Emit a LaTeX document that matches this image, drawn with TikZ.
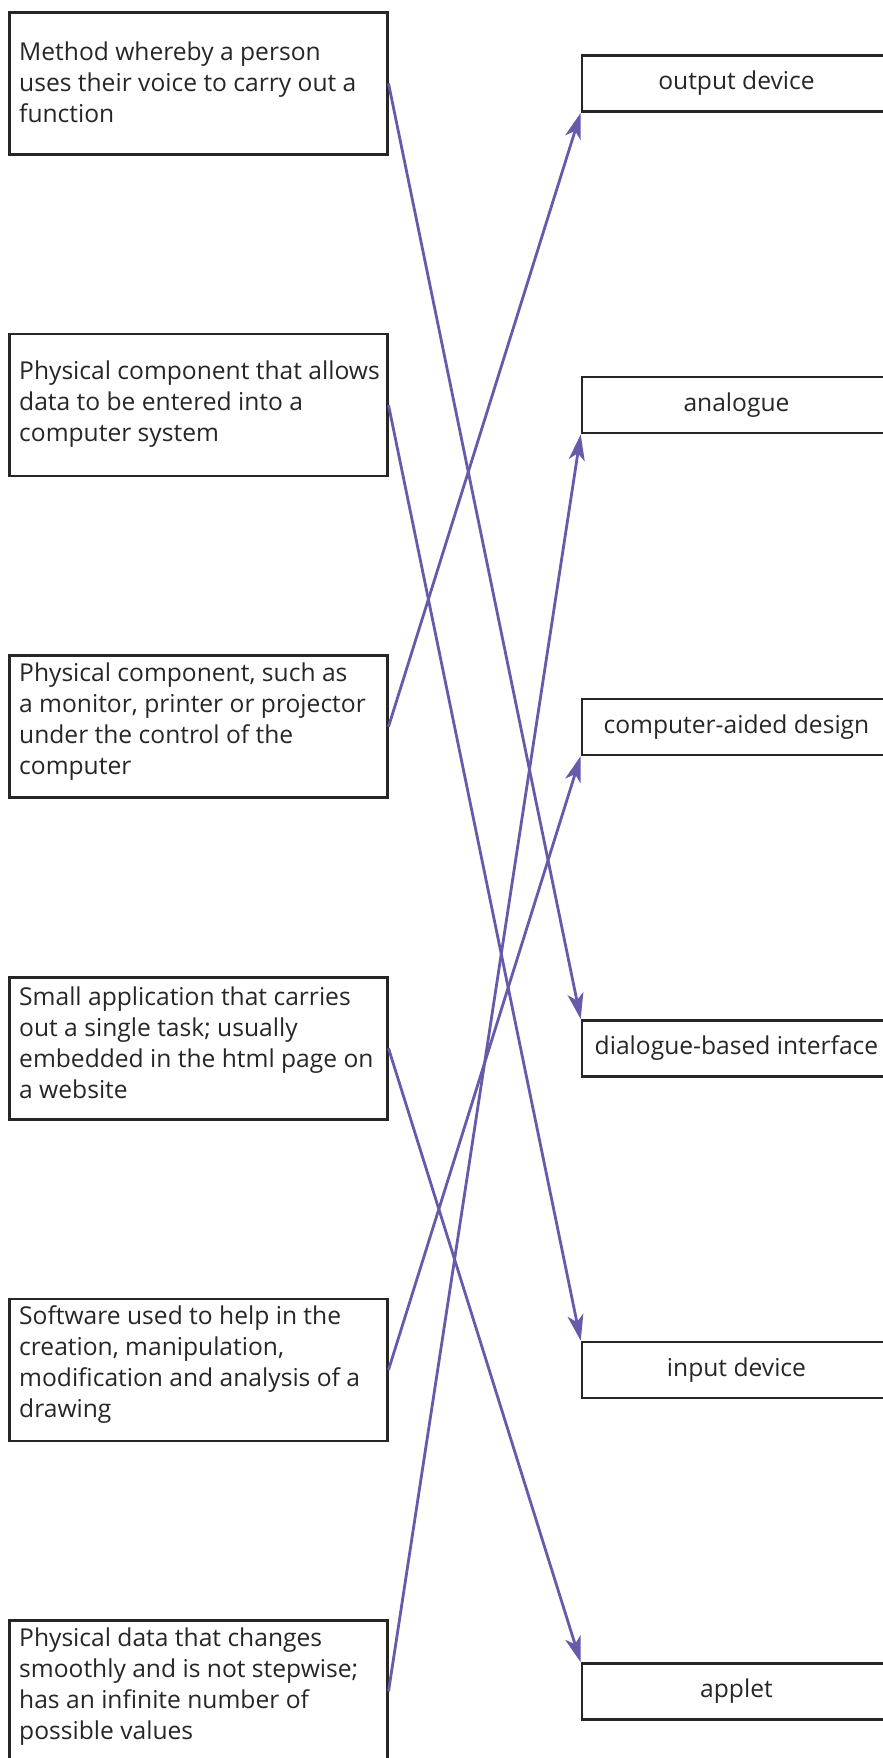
\documentclass[tikz,border=0pt]{standalone}
\usepackage{fontspec}
\setmainfont{Open Sans}
\usetikzlibrary{arrows.meta}
\definecolor{linkpurple}{RGB}{102,90,170}
\definecolor{boxgray}{RGB}{38,38,38}

\begin{document}
\begin{tikzpicture}[x=1pt,y=-1pt,
  defbox/.style={draw=boxgray, line width=2.5pt, minimum width=378pt,
    minimum height=142pt, anchor=north west, inner sep=0pt},
  deftext/.style={anchor=west, align=left, inner sep=0pt,
    font=\fontsize{24.6}{31}\selectfont, text=black!85},
  termbox/.style={draw=boxgray, line width=2.5pt, minimum width=309pt,
    minimum height=56pt, anchor=north west, inner sep=0pt,
    font=\fontsize{24.6}{31}\selectfont, text=black!85},
  link/.style={draw=linkpurple, line width=2.8pt,
    -{Stealth[length=26pt,width=16pt,inset=7pt]}}]
\useasboundingbox (0,0) rectangle (883,1758);
\clip (0,0) rectangle (883,1758);

% definition boxes (left column)
\node[defbox] (l1) at (8,11.2) {};
\node[defbox] (l2) at (8,332.8) {};
\node[defbox] (l3) at (8,654.4) {};
\node[defbox] (l4) at (8,976.0) {};
\node[defbox] (l5) at (8,1297.6) {};
\node[defbox] (l6) at (8,1619.2) {};

\node[deftext] (t1) at (19,82.2) {Method whereby a person\\uses their voice to carry out a\\function};
\node[deftext] (t2) at (19,403.8) {Physical component that allows\\data to be entered into a\\computer system};
\node[deftext] (t3) at (19,721.4) {Physical component, such as\\a monitor, printer or projector\\under the control of the\\computer};
\node[deftext] (t4) at (19,1043.0) {Small application that carries\\out a single task; usually\\embedded in the html page on\\a website};
\node[deftext] (t5) at (19,1364.6) {Software used to help in the\\creation, manipulation,\\modification and analysis of a\\drawing};
\node[deftext] (t6) at (19,1686.2) {Physical data that changes\\smoothly and is not stepwise;\\has an infinite number of\\possible values};

% term boxes (right column)
\node[termbox] (r1) at (580.7,54.3) {output device};
\node[termbox] (r2) at (580.7,375.9) {analogue};
\node[termbox] (r3) at (580.7,697.5) {computer-aided design};
\node[termbox] (r4) at (580.7,1019.1) {dialogue-based interface};
\node[termbox] (r5) at (580.7,1340.7) {input device};
\node[termbox] (r6) at (580.7,1662.3) {applet};

% matching lines
\draw[link] (l1.east) -- (r4.north west);
\draw[link] (l2.east) -- (r5.north west);
\draw[link] (l3.east) -- (r1.south west);
\draw[link] (l4.east) -- (r6.north west);
\draw[link] (l5.east) -- (r3.south west);
\draw[link] (l6.east) -- (r2.south west);
\end{tikzpicture}
\end{document}
